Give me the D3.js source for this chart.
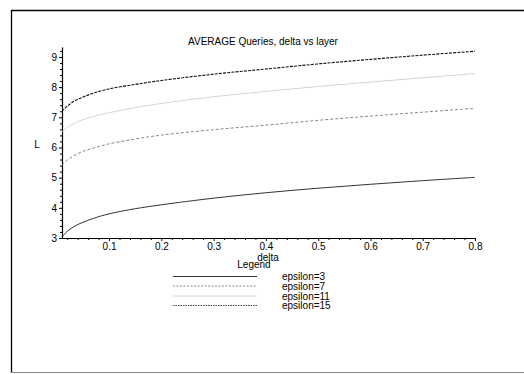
<!DOCTYPE html>
<html>
<head>
<meta charset="utf-8">
<script src="https://cdn.jsdelivr.net/npm/d3@7"></script>
<style>
  html, body { margin: 0; padding: 0; background: #fff; }
  svg { display: block; }
  text { font-family: "Liberation Sans", Arial, Helvetica, sans-serif; fill: #000; }
</style>
</head>
<body>
<svg id="chart" width="524" height="374"></svg>
<script>
// delta sample points shared by all series
const deltas = [0.01, 0.02, 0.035, 0.05, 0.07, 0.1, 0.15, 0.2, 0.3, 0.4, 0.5, 0.6, 0.7, 0.8];

// average layer count L for each epsilon
const eps3  = [3.04, 3.22, 3.40, 3.52, 3.65, 3.80, 3.97, 4.10, 4.32, 4.50, 4.65, 4.78, 4.90, 5.01];
const eps7  = [5.42, 5.58, 5.75, 5.87, 5.98, 6.12, 6.28, 6.41, 6.59, 6.74, 6.90, 7.04, 7.17, 7.30];
const eps11 = [6.52, 6.67, 6.81, 6.92, 7.03, 7.15, 7.32, 7.46, 7.68, 7.86, 8.02, 8.17, 8.31, 8.45];
const eps15 = [7.20, 7.37, 7.55, 7.67, 7.80, 7.94, 8.09, 8.22, 8.43, 8.60, 8.77, 8.92, 9.06, 9.19];

const seriesNames = ["epsilon=3", "epsilon=7", "epsilon=11", "epsilon=15"];
const seriesValues = [eps3, eps7, eps11, eps15];

const xTicks = [0.1, 0.2, 0.3, 0.4, 0.5, 0.6, 0.7, 0.8];
const yTicks = [3, 4, 5, 6, 7, 8, 9];

const styles = [
  { stroke: "#333", dash: null, width: 1, legendDash: null },
  { stroke: "#888", dash: "3,2", width: 1, legendDash: "2,1.5" },
  { stroke: "#d4d4d4", dash: null, width: 1, legendDash: null },
  { stroke: "#111", dash: "3,1.2", width: 1.1, legendDash: "1.5,1" }
];

const svg = d3.select("#chart");

// outer frame
svg.append("line").attr("x1", 11.5).attr("y1", 10).attr("x2", 11.5).attr("y2", 373)
  .attr("stroke", "#000").attr("stroke-width", 1.3);
svg.append("line").attr("x1", 11).attr("y1", 10.5).attr("x2", 524).attr("y2", 10.5)
  .attr("stroke", "#000").attr("stroke-width", 1.3);
svg.append("line").attr("x1", 11).attr("y1", 372.5).attr("x2", 524).attr("y2", 372.5)
  .attr("stroke", "#888").attr("stroke-width", 1);

const x = d3.scaleLinear().domain([0.01, 0.8]).range([62, 475]);
const y = d3.scaleLinear().domain([3, 9.33]).range([238, 47]);

// minor ticks
const xMinor = d3.range(0.02, 0.8001, 0.02).filter(v => Math.abs(v * 10 - Math.round(v * 10)) > 1e-6);
const yMinor = d3.range(3.2, 9.3, 0.2).filter(v => Math.abs(v - Math.round(v)) > 1e-6);

svg.append("g").attr("transform", "translate(0,238)")
  .call(d3.axisBottom(x).tickValues(xMinor).tickSize(2).tickFormat(""))
  .call(g => g.select(".domain").remove());
svg.append("g").attr("transform", "translate(62,0)")
  .call(d3.axisLeft(y).tickValues(yMinor).tickSize(2).tickFormat(""))
  .call(g => g.select(".domain").remove());

// major axes
const xAxis = svg.append("g").attr("transform", "translate(0,238)")
  .call(d3.axisBottom(x).tickValues(xTicks).tickSize(3).tickPadding(2).tickFormat(d3.format(".1f")).tickSizeOuter(0));
const yAxis = svg.append("g").attr("transform", "translate(62,0)")
  .call(d3.axisLeft(y).tickValues(yTicks).tickSize(3).tickPadding(2).tickFormat(d3.format("d")).tickSizeOuter(0));

[xAxis, yAxis].forEach(g => {
  g.selectAll("text").style("font-size", "10px").attr("fill", "#000");
  g.selectAll("line").attr("stroke", "#000");
  g.select(".domain").attr("stroke", "#000").attr("stroke-width", 1.2);
});

// curves
const line = d3.line()
  .x(d => x(d[0]))
  .y(d => y(d[1]))
  .curve(d3.curveCatmullRom.alpha(0.5));

seriesValues.forEach((vals, i) => {
  const pts = deltas.map((d, j) => [d, vals[j]]);
  svg.append("path")
    .attr("d", line(pts))
    .attr("fill", "none")
    .attr("stroke", styles[i].stroke)
    .attr("stroke-width", styles[i].width)
    .attr("stroke-dasharray", styles[i].dash);
});

// titles
svg.append("text").attr("x", 263).attr("y", 45).attr("text-anchor", "middle")
  .style("font-size", "10px").text("AVERAGE Queries, delta vs layer");
svg.append("text").attr("x", 37).attr("y", 148).attr("text-anchor", "middle")
  .style("font-size", "10px").text("L");
svg.append("text").attr("x", 268).attr("y", 261).attr("text-anchor", "middle")
  .style("font-size", "10px").text("delta");

// legend
svg.append("text").attr("x", 254).attr("y", 268).attr("text-anchor", "middle")
  .style("font-size", "10px").text("Legend");

const legendY = [276, 285.5, 295.5, 305];
seriesNames.forEach((name, i) => {
  svg.append("line")
    .attr("x1", 173).attr("x2", 257)
    .attr("y1", legendY[i] + 0.5).attr("y2", legendY[i] + 0.5)
    .attr("stroke", i === 3 ? "#444" : styles[i].stroke)
    .attr("stroke-width", styles[i].width)
    .attr("stroke-dasharray", styles[i].legendDash);
  svg.append("text").attr("x", 282).attr("y", legendY[i] + 4)
    .style("font-size", "10px").text(name);
});
</script>
</body>
</html>
